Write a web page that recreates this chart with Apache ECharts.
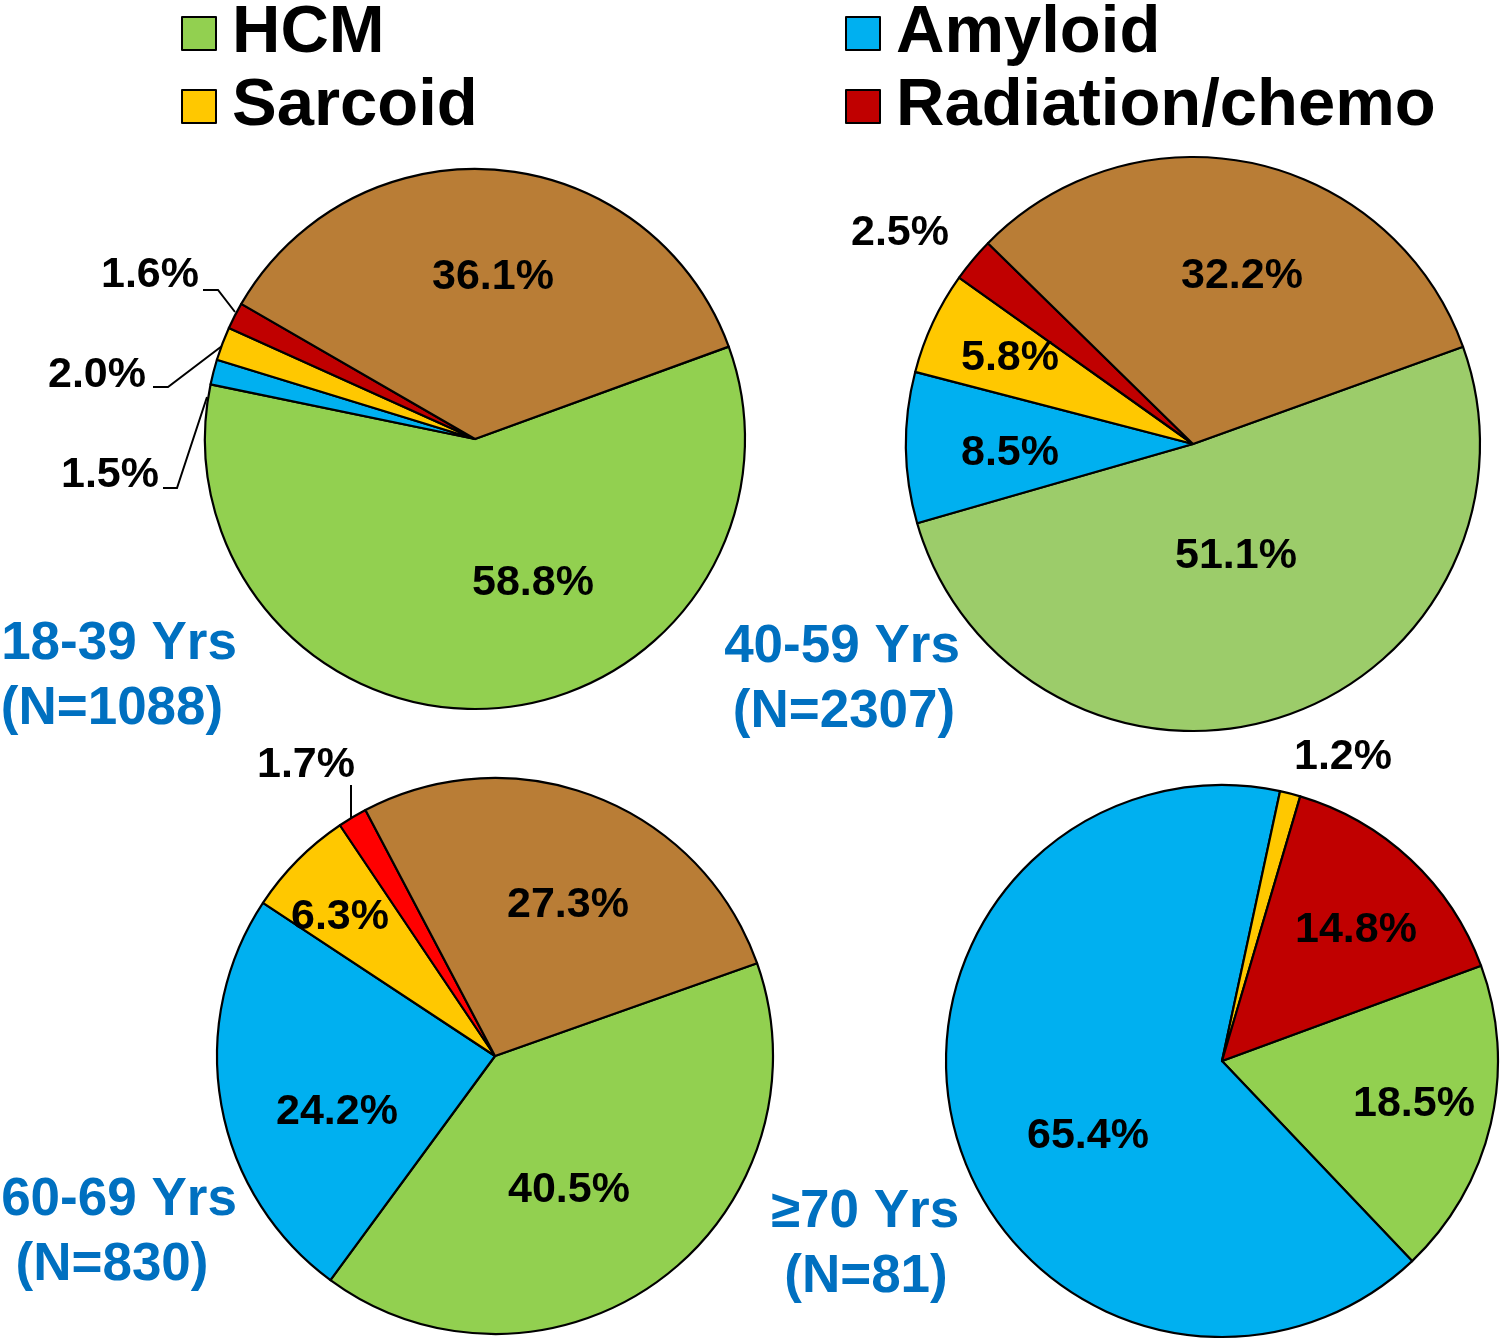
<!DOCTYPE html>
<html>
<head>
<meta charset="utf-8">
<script src="https://cdn.jsdelivr.net/npm/echarts@6/dist/echarts.min.js"></script>
<style>
  html, body { margin: 0; padding: 0; background: #fff; }
  #chart { width: 1500px; height: 1340px; }
</style>
</head>
<body>
<div id="chart"></div>
<script>
// ---------------- DATA ----------------
const categories = ['HCM', 'Amyloid', 'Sarcoid', 'Radiation/chemo', 'Other'];
const legendLeft = ['HCM', 'Sarcoid'];
const legendRight = ['Amyloid', 'Radiation/chemo'];
const groupNames = ['18-39 Yrs', '40-59 Yrs', '60-69 Yrs', '\u226570 Yrs'];
const groupN = ['(N=1088)', '(N=2307)', '(N=830)', '(N=81)'];
const pct18to39 = [58.8, 1.5, 2.0, 1.6, 36.1];
const pct40to59 = [51.1, 8.5, 5.8, 2.5, 32.2];
const pct60to69 = [40.5, 24.2, 6.3, 1.7, 27.3];
const pct70plus = [18.5, 65.4, 1.2, 14.8, null];
const seriesValues = [pct18to39, pct40to59, pct60to69, pct70plus];

// ---------------- STYLE / LAYOUT ----------------
const FONT = '"Liberation Sans", Arial, Helvetica, sans-serif';
const baseColors = {
  'HCM': '#92D050', 'Amyloid': '#00B0F0', 'Sarcoid': '#FFC800',
  'Radiation/chemo': '#C00000', 'Other': '#B97D36'
};
const colorOverrides = [{}, { 'HCM': '#9CCC6A' }, { 'Radiation/chemo': '#FF0000' }, {}];
const pieLayout = [
  { center: [475, 439], radius: 270, startAngle: 20 },
  { center: [1193, 444], radius: 287, startAngle: 19.8 },
  { center: [495, 1056], radius: 278, startAngle: 19.5 },
  { center: [1222, 1061], radius: 276, startAngle: 20.2 }
];
const labelPos = [
  [[533, 583], [110, 475], [97, 375], [150, 275], [493, 277]],
  [[1236, 556], [1010, 453], [1010, 358], [900, 233], [1242, 276]],
  [[569, 1190], [337, 1112], [340, 917], [306, 765], [568, 905]],
  [[1414, 1104], [1088, 1136], [1343, 757], [1356, 930]]
];
const leaders = [
  { 1: [[207, 397], [177, 488], [163, 488]],
    2: [[222, 346], [168, 387], [153, 387]],
    3: [[235, 312], [218, 290], [203, 290]] },
  {},
  { 3: [[351, 821], [351, 800], [351, 785]] },
  {}
];
const groupLabelPos = [
  [[119, 644], [112, 709]],
  [[842, 647], [844, 712]],
  [[119, 1200], [112, 1265]],
  [[865, 1212], [866, 1277]]
];

function buildSeries(i) {
  const vals = seriesValues[i];
  const data = [];
  vals.forEach((v, k) => {
    if (v == null) return;
    const name = categories[k];
    const color = colorOverrides[i][name] || baseColors[name];
    const item = { name: name, value: v, itemStyle: { color: color } };
    if (leaders[i][data.length]) {
      item.label = { position: 'outside' };
      item.labelLine = { show: true, lineStyle: { color: '#000', width: 2 } };
    }
    data.push(item);
  });
  const L = pieLayout[i];
  return {
    type: 'pie',
    center: L.center,
    radius: L.radius,
    startAngle: L.startAngle,
    clockwise: true,
    avoidLabelOverlap: false,
    animation: false,
    silent: true,
    emphasis: { disabled: true },
    itemStyle: { borderColor: '#000', borderWidth: 2.2 },
    label: {
      show: true,
      position: 'inside',
      formatter: p => p.value.toFixed(1) + '%',
      color: '#000',
      fontFamily: FONT,
      fontWeight: 'bold',
      fontSize: 43
    },
    labelLine: { show: false },
    labelLayout: function (params) {
      const p = labelPos[i][params.dataIndex];
      const out = { x: p[0], y: p[1], align: 'center', verticalAlign: 'middle' };
      const ll = leaders[i][params.dataIndex];
      if (ll) out.labelLinePoints = ll;
      return out;
    },
    data: data
  };
}

const graphics = [];
groupNames.forEach((g, i) => {
  [g, groupN[i]].forEach((t, j) => {
    graphics.push({
      type: 'text',
      x: groupLabelPos[i][j][0],
      y: groupLabelPos[i][j][1],
      silent: true,
      style: {
        text: t,
        align: 'center',
        verticalAlign: 'middle',
        fill: '#0070C0',
        font: 'bold 53px ' + FONT
      }
    });
  });
});

const legendCommon = {
  orient: 'vertical',
  top: 0,
  padding: 0,
  itemGap: 16,
  itemWidth: 34,
  itemHeight: 33,
  icon: 'rect',
  selectedMode: false,
  itemStyle: { borderColor: '#000', borderWidth: 2 },
  textStyle: {
    color: '#000',
    fontFamily: FONT,
    fontWeight: 'bold',
    fontSize: 67,
    lineHeight: 56,
    padding: [0, 0, 0, 11]
  }
};

const option = {
  backgroundColor: '#fff',
  animation: false,
  legend: [
    Object.assign({}, legendCommon, { left: 181, itemGap: 6, data: legendLeft }),
    Object.assign({}, legendCommon, { left: 845, itemGap: 6, data: legendRight })
  ],
  graphic: graphics,
  series: [0, 1, 2, 3].map(buildSeries)
};

const chart = echarts.init(document.getElementById('chart'), null, { renderer: 'canvas' });
chart.setOption(option);
</script>
</body>
</html>
